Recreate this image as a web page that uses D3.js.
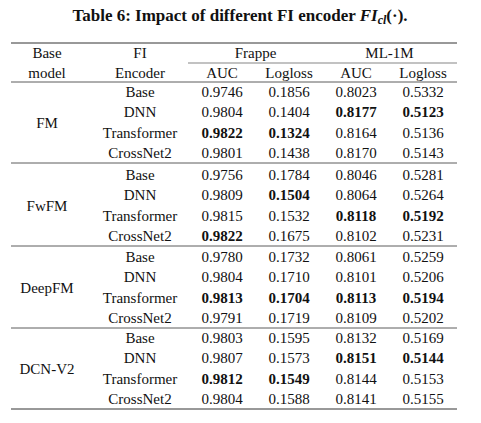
<!DOCTYPE html>
<html><head><meta charset="utf-8">
<script src="https://cdn.jsdelivr.net/npm/d3@7"></script>
<style>body{margin:0;background:#fff}svg text{font-family:"Liberation Serif","Times New Roman","DejaVu Serif",serif;fill:#111}</style>
</head><body>
<script>
const models = ["FM", "FwFM", "DeepFM", "DCN-V2"];
const encoders = ["Base", "DNN", "Transformer", "CrossNet2"];
const columns = ["AUC", "Logloss", "AUC", "Logloss"];
const datasets = ["Frappe", "ML-1M"];
const values = [
  ["0.9746","0.1856","0.8023","0.5332"],
  ["0.9804","0.1404","0.8177","0.5123"],
  ["0.9822","0.1324","0.8164","0.5136"],
  ["0.9801","0.1438","0.8170","0.5143"],
  ["0.9756","0.1784","0.8046","0.5281"],
  ["0.9809","0.1504","0.8064","0.5264"],
  ["0.9815","0.1532","0.8118","0.5192"],
  ["0.9822","0.1675","0.8102","0.5231"],
  ["0.9780","0.1732","0.8061","0.5259"],
  ["0.9804","0.1710","0.8101","0.5206"],
  ["0.9813","0.1704","0.8113","0.5194"],
  ["0.9791","0.1719","0.8109","0.5202"],
  ["0.9803","0.1595","0.8132","0.5169"],
  ["0.9807","0.1573","0.8151","0.5144"],
  ["0.9812","0.1549","0.8144","0.5153"],
  ["0.9804","0.1588","0.8141","0.5155"]
];
// bold flags [row][col]
const bold = [
  [0,0,0,0],[0,0,1,1],[1,1,0,0],[0,0,0,0],
  [0,0,0,0],[0,1,0,0],[0,0,1,1],[1,0,0,0],
  [0,0,0,0],[0,0,0,0],[1,1,1,1],[0,0,0,0],
  [0,0,0,0],[0,0,1,1],[1,1,0,0],[0,0,0,0]
];

const W = 481, H = 423, x0 = 11, x1 = 457;
const FONT = '"Liberation Serif","Times New Roman",serif';
const svg = d3.select("body").append("svg").attr("width", W).attr("height", H);

svg.append("text").attr("x", 240).attr("y", 21).attr("text-anchor", "middle")
  .attr("font-family", FONT).attr("font-size", 17).attr("font-weight", "bold")
  .html('Table 6: Impact of different FI encoder <tspan font-style="italic">FI</tspan><tspan font-style="italic" font-size="12" dy="3">cl</tspan><tspan dy="-3">(·).</tspan>');

const colX = d3.scalePoint().domain(d3.range(4)).range([222, 423]);
const rowY = d3.scaleLinear().domain([0, 3]).range([92, 153]);

function rule(y, a, b, w) {
  svg.append("line").attr("x1", a).attr("x2", b).attr("y1", y).attr("y2", y)
    .attr("stroke", "#333").attr("stroke-width", w);
}
rule(43, x0, x1, 1);
rule(63, 188, x1, 0.6);
rule(82, x0, x1, 0.8);

function txt(x, y, s, b) {
  svg.append("text").attr("x", x).attr("y", y + 5).attr("text-anchor", "middle")
    .attr("font-family", FONT).attr("font-size", 15)
    .attr("font-weight", b ? "bold" : "normal").text(s);
}
txt(47, 53, "Base"); txt(47, 73, "model");
txt(140, 53, "FI"); txt(140, 73, "Encoder");
datasets.forEach((d, i) => txt((colX(2 * i) + colX(2 * i + 1)) / 2, 53, d));
columns.forEach((c, i) => txt(colX(i), 73, c));

models.forEach((m, g) => {
  const off = [0, 83, 165, 246][g];
  txt(47, rowY(1.5) + off, m);
  encoders.forEach((e, r) => {
    const y = rowY(r) + off;
    txt(140, y, e);
    values[g * 4 + r].forEach((v, c) => txt(colX(c), y, v, bold[g * 4 + r][c]));
  });
  rule(rowY(3) + off + 10, x0, x1, g === 3 ? 1 : 0.8);
});
</script>
</body></html>
